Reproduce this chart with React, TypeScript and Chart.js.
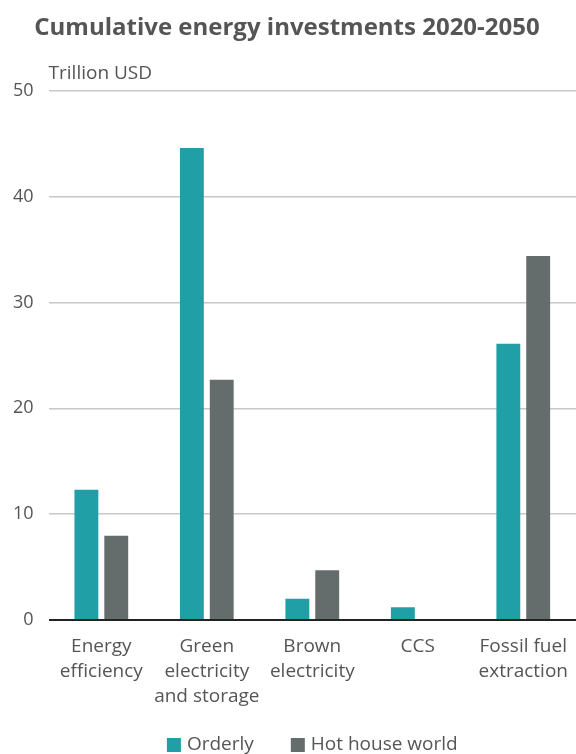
import React, { useEffect, useRef } from "react";
import { Chart, registerables } from "chart.js";

Chart.register(...registerables);

const categories: string[][] = [
  ["Energy", "efficiency"],
  ["Green", "electricity", "and storage"],
  ["Brown", "electricity"],
  ["CCS"],
  ["Fossil fuel", "extraction"],
];
const orderly = [12.3, 44.6, 2.0, 1.2, 26.1];
const hotHouse = [7.95, 22.7, 4.7, 0, 34.4];
const yTicks = [0, 10, 20, 30, 40, 50];

const TEXT = "#555555";
const FONT = "'Open Sans', sans-serif";

const unitPlugin = {
  id: "unitLabel",
  afterDraw(chart: any) {
    const { ctx, chartArea } = chart;
    ctx.save();
    ctx.font = `19px ${FONT}`;
    ctx.fillStyle = TEXT;
    ctx.textAlign = "left";
    ctx.textBaseline = "middle";
    ctx.fillText("Trillion USD", chartArea.left, chartArea.top - 17);
    ctx.restore();
  },
};

const legendPlugin = {
  id: "bottomLegend",
  afterDraw(chart: any) {
    const { ctx, chartArea } = chart;
    const ds = chart.data.datasets;
    ctx.save();
    ctx.font = `19px ${FONT}`;
    ctx.textBaseline = "middle";
    ctx.textAlign = "left";
    const box = 14;
    const boxGap = 6;
    const itemGap = 37;
    const widths = ds.map((d: any) => box + boxGap + ctx.measureText(d.label).width);
    const total = widths.reduce((a: number, b: number) => a + b, 0) + itemGap * (ds.length - 1);
    let x = (chartArea.left + chartArea.right) / 2 - total / 2;
    const yc = chart.height - 9;
    ds.forEach((d: any, i: number) => {
      ctx.fillStyle = d.backgroundColor;
      ctx.fillRect(x, yc - box / 2, box, box);
      ctx.fillStyle = TEXT;
      ctx.fillText(d.label, x + box + boxGap, yc);
      x += widths[i] + itemGap;
    });
    ctx.restore();
  },
};

export default function App() {
  const ref = useRef<HTMLCanvasElement>(null);
  useEffect(() => {
    if (!ref.current) return;
    const chart = new Chart(ref.current, {
      type: "bar",
      data: {
        labels: categories,
        datasets: [
          { label: "Orderly", data: orderly, backgroundColor: "#20a0a6" },
          { label: "Hot house world", data: hotHouse, backgroundColor: "#646c6c" },
        ],
      },
      options: {
        animation: false,
        responsive: false,
        layout: { padding: { left: -2, right: 0, top: 0, bottom: 39 } },
        datasets: { bar: { categoryPercentage: 0.566, barPercentage: 0.8 } } as any,
        scales: {
          x: {
            grid: { display: false },
            border: { display: false },
            ticks: {
              color: TEXT,
              font: { family: FONT, size: 19, lineHeight: "25px" } as any,
              maxRotation: 0,
              autoSkip: false,
              padding: 6,
            },
          },
          y: {
            min: 0,
            max: 50,
            afterBuildTicks(scale: any) {
              scale.ticks = yTicks.map((v) => ({ value: v }));
            },
            border: { display: false },
            grid: {
              color: (c: any) => (c.tick && c.tick.value === 0 ? "#222222" : "#c8c8c8"),
              lineWidth: (c: any) => (c.tick && c.tick.value === 0 ? 2 : 1.5),
              drawTicks: false,
            },
            ticks: {
              color: TEXT,
              font: { family: FONT, size: 18 },
              padding: 15,
            },
          },
        },
        plugins: {
          title: {
            display: true,
            text: "Cumulative energy investments 2020-2050",
            color: TEXT,
            font: { family: FONT, size: 24, weight: "bold" },
            padding: { top: 14, bottom: 48 },
          },
          legend: { display: false },
          tooltip: { enabled: false },
        },
      },
      plugins: [unitPlugin, legendPlugin],
    });
    return () => chart.destroy();
  }, []);
  return (
    <div style={{ position: "fixed", left: 0, top: 0, width: 576, height: 754, background: "#fff" }}>
      <canvas ref={ref} width={576} height={754} style={{ display: "block" }} />
    </div>
  );
}
